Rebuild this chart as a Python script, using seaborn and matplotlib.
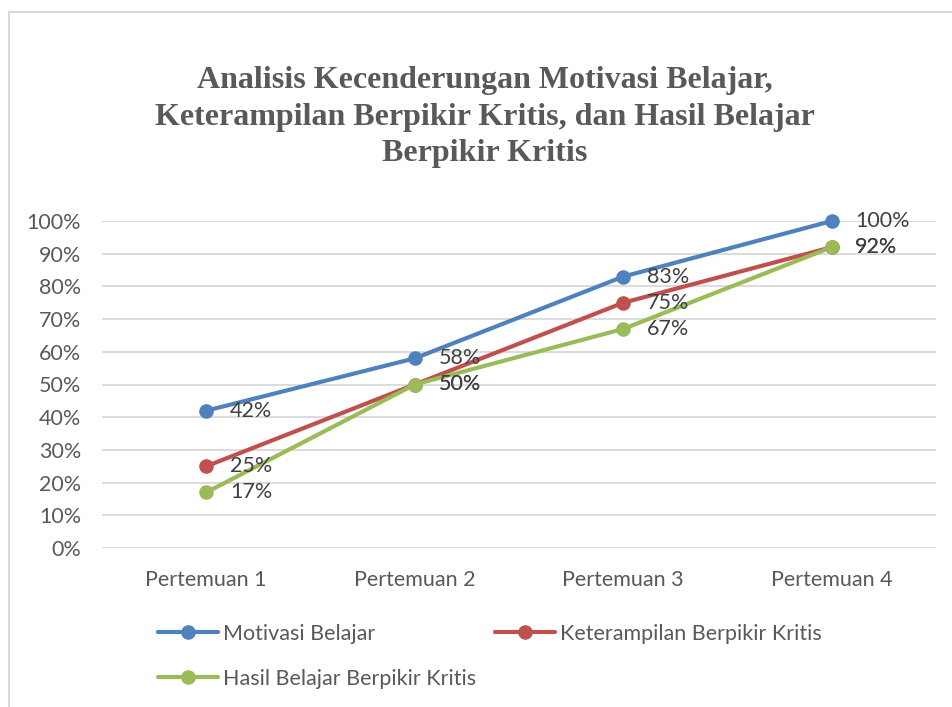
import matplotlib
matplotlib.use("Agg")
import matplotlib.pyplot as plt
from matplotlib.lines import Line2D
import seaborn as sns
import pandas as pd

# values
meetings = ["Pertemuan 1", "Pertemuan 2", "Pertemuan 3", "Pertemuan 4"]
motivasi = [0.42, 0.58, 0.83, 1.00]
keterampilan = [0.25, 0.50, 0.75, 0.92]
hasil = [0.17, 0.50, 0.67, 0.92]
series_names = ["Motivasi Belajar", "Keterampilan Berpikir Kritis", "Hasil Belajar Berpikir Kritis"]
colors = ["#4F81BD", "#C0504D", "#9BBB59"]
title = "Analisis Kecenderungan Motivasi Belajar,\nKeterampilan Berpikir Kritis, dan Hasil Belajar\nBerpikir Kritis"

df = pd.DataFrame({
    "meeting": meetings * 3,
    "x": list(range(len(meetings))) * 3,
    "value": motivasi + keterampilan + hasil,
    "series": [s for s in series_names for _ in meetings],
})

sns.set_theme(style="white")
plt.rcParams["font.family"] = ["Lato", "DejaVu Sans"]
fs = 15.5

fig = plt.figure(figsize=(9.53, 7.07), dpi=100)
ax = fig.add_axes([102 / 953, 159 / 707, 834 / 953, 327 / 707])

sns.lineplot(data=df, x="x", y="value", hue="series", hue_order=series_names,
             palette=colors, marker="o", markersize=10.5, markeredgewidth=0,
             linewidth=3, ax=ax, legend=False, clip_on=False)

# data labels
for name, col in zip(series_names, colors):
    sub = df[df["series"] == name]
    for xv, yv in zip(sub["x"], sub["value"]):
        ax.annotate(f"{yv:.0%}", (xv, yv), xytext=(17, 0), textcoords="offset points",
                    ha="left", va="center", fontsize=fs, color="#404040")

ax.set_xlim(-0.5, 3.5)
ax.set_ylim(0, 1)
ax.set_xticks(range(len(meetings)))
ax.set_xticklabels(meetings)
ax.set_yticks([i / 10 for i in range(11)])
ax.set_yticklabels([f"{i * 10}%" for i in range(11)])
ax.tick_params(axis="both", length=0, labelsize=fs, labelcolor="#595959")
ax.tick_params(axis="x", pad=16)
ax.tick_params(axis="y", pad=15)
ax.set_xlabel("")
ax.set_ylabel("")
ax.grid(axis="y", color="#D9D9D9", linewidth=1.3)
ax.set_axisbelow(True)
for s in ax.spines.values():
    s.set_visible(False)

fig.text(0.509, 1 - 117 / 707, title, ha="center", va="center", fontsize=23,
         fontweight="bold", family="Liberation Serif", color="#595959", linespacing=1.32)

# legend fills column by column, so reorder to get the row layout of the original
order = [0, 2, 1]
handles = [Line2D([0], [0], color=colors[i], linewidth=3, marker="o", markersize=10.5,
                  markeredgewidth=0) for i in order]
fig.legend(handles, [series_names[i] for i in order], loc="upper left",
           bbox_to_anchor=(158 / 953, 1 - 624 / 707),
           ncol=2, frameon=False, fontsize=fs, labelcolor="#595959", handlelength=2.8,
           handletextpad=0.2, columnspacing=0.9, labelspacing=1.15, borderpad=0, borderaxespad=0)

# light frame of the original chart box
fig.add_artist(Line2D([9 / 953, 9 / 953], [0, 1 - 12 / 707], transform=fig.transFigure,
                      color="#D9D9D9", linewidth=1.5))
fig.add_artist(Line2D([9 / 953, 1], [1 - 12 / 707, 1 - 12 / 707], transform=fig.transFigure,
                      color="#D9D9D9", linewidth=1.5))

fig.savefig("out.png", dpi=100)
